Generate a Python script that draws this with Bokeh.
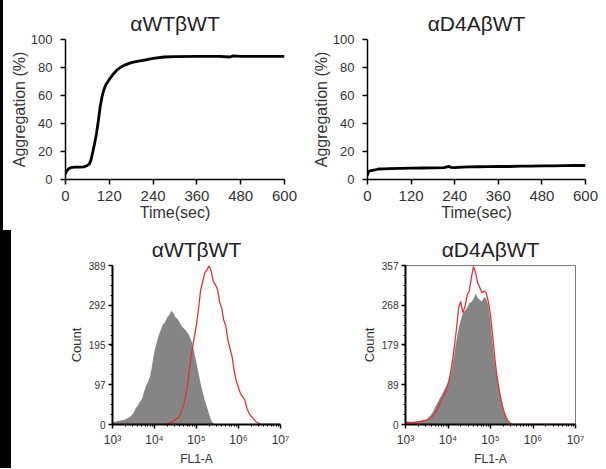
import numpy as np
from bokeh.plotting import figure
from bokeh.layouts import column, row
from bokeh.models import FixedTicker, Range1d, Spacer
from bokeh.embed import file_html
from bokeh.resources import INLINE

# ---------------- data ----------------
titles = ["αWTβWT", "αD4AβWT"]

# Aggregation traces (time in sec, aggregation %)
wt_time = [0, 3, 8, 15, 25, 40, 50, 55, 60, 65, 70, 75, 80, 85, 90, 95, 100, 105, 110,
           120, 130, 140, 150, 160, 180, 200, 220, 240, 270, 300, 360, 420, 450, 460, 480, 540, 600]
wt_aggr = [4, 6, 7.5, 8.5, 8.8, 8.8, 9, 9.5, 10, 11, 14, 20, 26, 33, 42, 52, 59, 64, 67.5,
           71.5, 75, 78, 80, 81.5, 83.5, 84.5, 85.5, 86.5, 87.5, 87.8, 88, 88, 87.5, 88.3, 88, 88, 88]

d4a_time = [0, 2, 5, 10, 20, 30, 45, 60, 90, 120, 150, 180, 210, 225, 230, 240, 260, 280,
            300, 330, 360, 390, 420, 450, 480, 510, 540, 570, 600]
d4a_aggr = [3, 5, 6, 6.3, 6.8, 7.5, 7.6, 7.8, 8, 8.1, 8.2, 8.3, 8.5, 9.3, 8.6, 8.5, 8.9, 9,
            9.1, 9.2, 9.4, 9.3, 9.5, 9.6, 9.7, 9.8, 9.9, 10, 10]

time_ticks = [0, 120, 240, 360, 480, 600]
aggr_ticks = [0, 20, 40, 60, 80, 100]

# Flow cytometry histograms (log10 FL1-A, count)
wt_ctrl_log = [3.0, 3.1, 3.2, 3.3, 3.4, 3.45, 3.5, 3.55, 3.6, 3.65, 3.7, 3.75, 3.8, 3.85, 3.9,
               3.95, 4.0, 4.05, 4.1, 4.15, 4.2, 4.25, 4.3, 4.35, 4.4, 4.45, 4.5, 4.55, 4.6, 4.65,
               4.7, 4.75, 4.8, 4.85, 4.9, 4.95, 5.0, 5.05, 5.1, 5.15, 5.2, 5.25, 5.3, 5.35, 5.4, 5.45]
wt_ctrl_cnt = [5, 8, 10, 12, 18, 22, 28, 40, 45, 55, 62, 80, 95, 105, 120,
               150, 180, 200, 218, 232, 245, 250, 262, 268, 278, 272, 262, 258, 250, 240,
               235, 230, 222, 212, 198, 175, 150, 125, 100, 78, 58, 42, 25, 10, 3, 0]

wt_stain_log = [3.0, 4.25, 4.3, 4.4, 4.5, 4.6, 4.65, 4.7, 4.75, 4.8, 4.85, 4.9, 4.95, 5.0, 5.05,
                5.1, 5.15, 5.2, 5.25, 5.3, 5.35, 5.4, 5.45, 5.5, 5.55, 5.6, 5.65, 5.7, 5.75, 5.8,
                5.85, 5.9, 5.95, 6.0, 6.05, 6.1, 6.15, 6.2, 6.25, 6.3, 6.35, 6.4, 6.45, 6.5, 6.55, 7.0]
wt_stain_cnt = [0, 0, 2, 5, 12, 20, 35, 50, 75, 105, 150, 185, 215, 245, 285,
                330, 350, 372, 378, 389, 375, 350, 342, 330, 300, 285, 255, 240, 205, 185,
                165, 130, 105, 90, 75, 68, 60, 40, 28, 20, 15, 8, 5, 2, 0, 0]

d4a_ctrl_log = [3.0, 3.2, 3.4, 3.5, 3.6, 3.65, 3.7, 3.75, 3.8, 3.85, 3.9, 3.95, 4.0, 4.05, 4.1,
                4.15, 4.2, 4.25, 4.3, 4.35, 4.4, 4.45, 4.5, 4.55, 4.6, 4.65, 4.7, 4.75, 4.8, 4.85,
                4.9, 4.95, 5.0, 5.05, 5.1, 5.15, 5.2, 5.25, 5.3, 5.35, 5.4, 5.45, 5.5]
d4a_ctrl_cnt = [4, 6, 8, 12, 22, 30, 40, 48, 58, 65, 75, 85, 95, 108, 130,
                160, 190, 215, 235, 250, 256, 262, 272, 275, 282, 294, 284, 280, 276, 286,
                282, 268, 230, 180, 140, 110, 80, 55, 35, 20, 8, 2, 0]

d4a_stain_log = [3.0, 3.2, 3.4, 3.5, 3.6, 3.7, 3.75, 3.8, 3.85, 3.9, 3.95, 4.0, 4.05, 4.1, 4.15,
                 4.2, 4.25, 4.3, 4.35, 4.4, 4.45, 4.5, 4.55, 4.6, 4.65, 4.7, 4.75, 4.8, 4.85, 4.9,
                 4.95, 5.0, 5.05, 5.1, 5.15, 5.2, 5.25, 5.3, 5.35, 5.4, 5.45, 5.5, 7.0]
d4a_stain_cnt = [5, 4, 8, 10, 15, 25, 35, 45, 55, 65, 75, 90, 110, 140, 175,
                 215, 262, 276, 251, 265, 290, 300, 330, 355, 340, 318, 307, 296, 300, 295,
                 275, 245, 200, 150, 110, 80, 55, 35, 20, 10, 4, 0, 0]

wt_count_ticks = [0, 97, 195, 292, 389]
d4a_count_ticks = [0, 89, 179, 268, 357]
fl_ticks = [3, 4, 5, 6, 7]
fl_labels = ["10³", "10⁴", "10⁵", "10⁶", "10⁷"]

FONT = "Liberation Sans"
TXT = "#333333"
RED = "#e0303c"
GRAY = "#858585"


def base_style(p, title):
    p.title.text = title
    p.title.align = "center"
    p.title.text_font = FONT
    p.title.text_font_style = "normal"
    p.title.text_color = "#222222"
    p.title.text_font_size = "21px"
    p.grid.visible = False
    p.background_fill_color = "white"
    p.border_fill_color = "white"
    for ax in (p.xaxis[0], p.yaxis[0]):
        ax.axis_line_color = "black"
        ax.major_tick_line_color = "black"
        ax.major_label_text_font = FONT
        ax.major_label_text_color = TXT
        ax.axis_label_text_font = FONT
        ax.axis_label_text_font_style = "normal"
        ax.axis_label_text_color = TXT


def aggr_fig(title, t, v, width, ml, mr):
    p = figure(width=width, height=230, output_backend="svg", toolbar_location=None,
               x_range=Range1d(0, 600), y_range=Range1d(0, 100),
               min_border_left=ml, min_border_right=mr, min_border_top=39, min_border_bottom=51)
    base_style(p, title)
    p.outline_line_color = None
    p.line(t, v, line_color="black", line_width=2.8)
    p.xaxis.ticker = FixedTicker(ticks=time_ticks)
    p.yaxis.ticker = FixedTicker(ticks=aggr_ticks)
    p.xaxis.axis_label = "Time(sec)"
    p.yaxis.axis_label = "Aggregation (%)"
    p.xaxis.major_label_text_font_size = "15px"
    p.yaxis.major_label_text_font_size = "13px"
    p.xaxis.axis_label_text_font_size = "16px"
    p.yaxis.axis_label_text_font_size = "16px"
    for ax in (p.xaxis[0], p.yaxis[0]):
        ax.axis_line_width = 1.5
        ax.major_tick_line_width = 1.5
        ax.major_tick_out = 5
        ax.major_tick_in = 0
        ax.minor_tick_line_color = None
        ax.axis_label_standoff = 0
    p.xaxis.major_label_standoff = 6
    p.yaxis.major_label_standoff = 8
    return p


def flow_fig(title, clog, ccnt, slog, scnt, yticks, width, ml, mr, mt, outline):
    ymax = yticks[-1]
    p = figure(width=width, height=238, output_backend="svg", toolbar_location=None,
               x_range=Range1d(3, 7), y_range=Range1d(0, ymax),
               min_border_left=ml, min_border_right=mr, min_border_top=mt, min_border_bottom=38)
    base_style(p, title)
    p.outline_line_color = "#777777" if outline else None
    p.varea(x=clog, y1=np.zeros(len(ccnt)), y2=ccnt, fill_color=GRAY)
    p.line(slog, scnt, line_color=RED, line_width=1.3)
    minor_x = [n + np.log10(k) for n in range(3, 7) for k in range(2, 10)]
    p.xaxis.ticker = FixedTicker(ticks=fl_ticks, minor_ticks=minor_x)
    step = ymax / 4.0
    minor_y = [i * step / 4.0 for i in range(17)]
    p.yaxis.ticker = FixedTicker(ticks=yticks, minor_ticks=minor_y)
    p.xaxis.major_label_overrides = {k: s for k, s in zip(fl_ticks, fl_labels)}
    p.xaxis.axis_label = "FL1-A"
    p.yaxis.axis_label = "Count"
    p.xaxis.major_label_text_font_size = "12px"
    p.yaxis.major_label_text_font_size = "10px"
    p.xaxis.axis_label_text_font_size = "12px"
    p.yaxis.axis_label_text_font_size = "13px"
    for ax in (p.xaxis[0], p.yaxis[0]):
        ax.axis_line_width = 2
        ax.major_tick_line_width = 1.5
        ax.major_tick_out = 4
        ax.major_tick_in = 0
        ax.minor_tick_out = 2
        ax.minor_tick_in = 0
        ax.minor_tick_line_color = "black"
        ax.axis_label_standoff = 2
    p.xaxis.major_label_standoff = 4
    p.yaxis.major_label_standoff = 3
    return p


p1 = aggr_fig(titles[0], wt_time, wt_aggr, 305, 62, 24)
p2 = aggr_fig(titles[1], d4a_time, d4a_aggr, 297, 59, 20)
p3 = flow_fig(titles[0], wt_ctrl_log, wt_ctrl_cnt, wt_stain_log, wt_stain_cnt,
              wt_count_ticks, 297, 101, 28, 35, False)
p4 = flow_fig(titles[1], d4a_ctrl_log, d4a_ctrl_cnt, d4a_stain_log, d4a_stain_cnt,
              d4a_count_ticks, 297, 97, 30, 34, True)

edge_top = Spacer(width=3, height=230, styles={"background-color": "black"})
edge_bot = Spacer(width=11, height=238, styles={"background-color": "black"})

layout = column(row(edge_top, p1, p2), row(edge_bot, p3, p4))
open("out.html", "w").write(file_html(layout, INLINE))
